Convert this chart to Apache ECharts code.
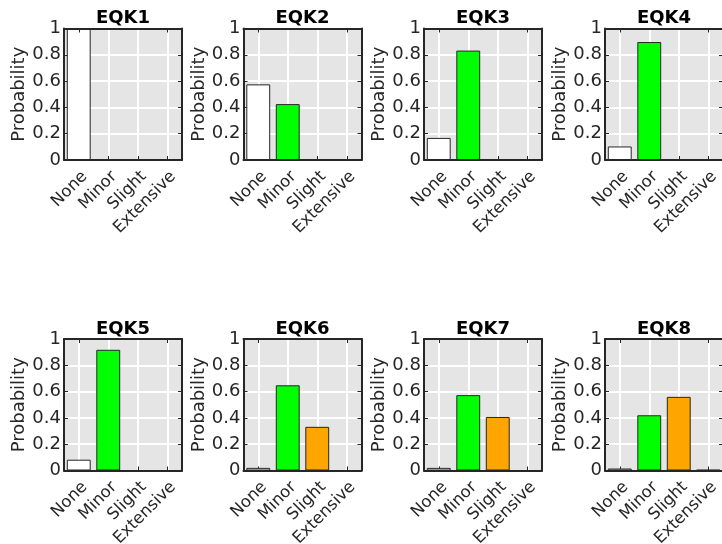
<!DOCTYPE html>
<html>
<head>
<meta charset="utf-8">
<script src="https://cdn.jsdelivr.net/npm/echarts@6/dist/echarts.min.js"></script>
<style>
html,body{margin:0;padding:0;background:#fff;}
#chart{width:722px;height:544px;}
</style>
</head>
<body>
<div id="chart"></div>
<script>
const categories = ['None', 'Minor', 'Slight', 'Extensive'];
const categoryColors = ['#ffffff', '#00ff00', '#ffa500', '#ff0000'];
const titles = ['EQK1', 'EQK2', 'EQK3', 'EQK4', 'EQK5', 'EQK6', 'EQK7', 'EQK8'];
const eqk1 = [1.0, 0, 0, 0];
const eqk2 = [0.575, 0.425, 0, 0];
const eqk3 = [0.168, 0.832, 0, 0];
const eqk4 = [0.103, 0.897, 0, 0];
const eqk5 = [0.082, 0.918, 0, 0];
const eqk6 = [0.02, 0.648, 0.332, 0];
const eqk7 = [0.02, 0.573, 0.407, 0];
const eqk8 = [0.015, 0.42, 0.56, 0.005];
const yTickValues = [0, 0.2, 0.4, 0.6, 0.8, 1];
const allData = [eqk1, eqk2, eqk3, eqk4, eqk5, eqk6, eqk7, eqk8];

const colLefts = [64, 243.5, 424, 605];
const rowTops = [28.5, 339];
const W = 118, H = 131.5;
const frame = '#262626';
const font = 'DejaVu Sans';

const option = {
  animation: false,
  backgroundColor: '#ffffff',
  title: [], grid: [], xAxis: [], yAxis: [], series: []
};

allData.forEach((vals, i) => {
  const r = Math.floor(i / 4), c = i % 4;
  const left = colLefts[c], top = rowTops[r];
  option.grid.push({
    left: left, top: top, width: W, height: H, outerBoundsMode: 'none',
    show: true, backgroundColor: '#e5e5e5', borderWidth: 0, containLabel: false
  });
  option.title.push({
    text: titles[i], left: left + W / 2, top: top - 19, textAlign: 'center', padding: 0,
    textStyle: { fontFamily: font, fontSize: 18, fontWeight: 'bold', color: '#000' }
  });
  // bottom x axis (below bars)
  option.xAxis.push({
    type: 'category', gridIndex: i, data: categories, position: 'bottom', z: 0,
    boundaryGap: true,
    axisLine: { show: true, lineStyle: { color: frame, width: 2 } },
    axisTick: { show: true, inside: true, alignWithLabel: true, length: 4, lineStyle: { color: frame, width: 1 } },
    axisLabel: { rotate: 45, fontFamily: font, fontSize: 16.5, color: frame, margin: 8, interval: 0, verticalAlign: 'top' },
    splitLine: { show: true, alignWithLabel: true, lineStyle: { color: '#ffffff', width: 2 } }
  });
  // top x axis (box, above bars)
  option.xAxis.push({
    type: 'category', gridIndex: i, data: categories, position: 'top', z: 5,
    boundaryGap: true,
    axisLine: { show: true, onZero: false, lineStyle: { color: frame, width: 2 } },
    axisTick: { show: true, inside: true, alignWithLabel: true, length: 4, lineStyle: { color: frame, width: 1 } },
    axisLabel: { show: false }, splitLine: { show: false }
  });
  option.yAxis.push({
    type: 'value', gridIndex: i, min: 0, max: 1, interval: 0.2, position: 'left', z: 0,
    name: 'Probability', nameLocation: 'middle', nameGap: 28, nameRotate: 90,
    nameTextStyle: { fontFamily: font, fontSize: 18, color: frame },
    axisLine: { show: true, onZero: false, lineStyle: { color: frame, width: 2 } },
    axisTick: { show: true, inside: true, length: 4, lineStyle: { color: frame, width: 1 } },
    axisLabel: { fontFamily: font, fontSize: 18, color: frame, margin: 3,
      formatter: v => String(yTickValues.find(t => Math.abs(t - v) < 1e-9) ?? v) },
    splitLine: { show: true, lineStyle: { color: '#ffffff', width: 2 } }
  });
  option.yAxis.push({
    type: 'value', gridIndex: i, min: 0, max: 1, interval: 0.2, position: 'right', z: 5,
    axisLine: { show: true, onZero: false, lineStyle: { color: frame, width: 2 } },
    axisTick: { show: true, inside: true, length: 4, lineStyle: { color: frame, width: 1 } },
    axisLabel: { show: false }, splitLine: { show: false }
  });
  option.series.push({
    type: 'bar', xAxisIndex: 2 * i, yAxisIndex: 2 * i, barWidth: '81%', z: 2,
    data: vals.map((v, k) => ({ value: v, itemStyle: { color: categoryColors[k], borderColor: frame, borderWidth: 1 } })),
    silent: true
  });
});

const chart = echarts.init(document.getElementById('chart'), null, { renderer: 'canvas' });
chart.setOption(option);
</script>
</body>
</html>
